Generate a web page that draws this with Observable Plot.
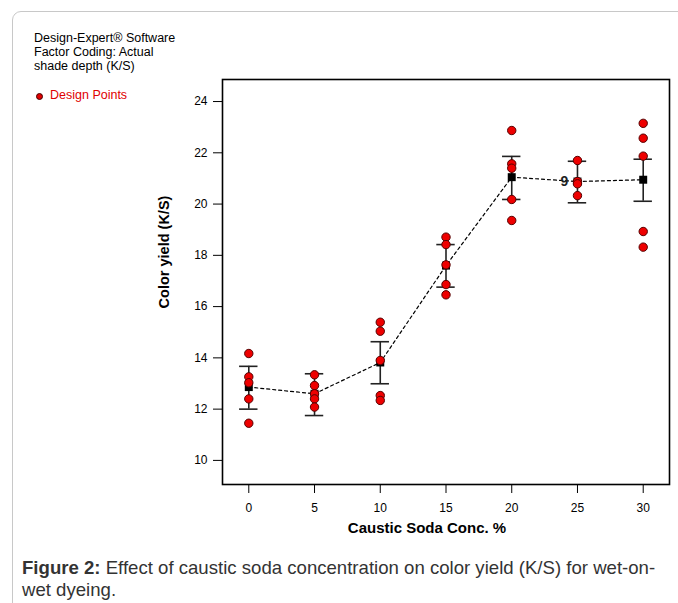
<!DOCTYPE html>
<html>
<head>
<meta charset="utf-8">
<script src="https://cdn.jsdelivr.net/npm/d3@7"></script>
<script src="https://cdn.jsdelivr.net/npm/@observablehq/plot@0.6"></script>
<style>
  html, body { margin: 0; padding: 0; background: #fff; }
  body { width: 678px; height: 603px; position: relative; overflow: hidden; font-family: "Liberation Sans", Arial, sans-serif; }
  #box { position: absolute; left: 12px; top: 11px; width: 700px; height: 640px; border: 1px solid #c8c8c8; border-radius: 9px; }
  #chart { position: absolute; left: 0; top: 0; }
  .info { position: absolute; left: 34px; top: 31px; font-size: 12.5px; line-height: 14px; color: #000; }
  .legend { position: absolute; left: 50px; top: 88px; font-size: 12.5px; color: #e00000; }
  .caption { position: absolute; left: 22px; top: 557px; width: 656px; font-size: 18.6px; line-height: 22px; color: #333; white-space: nowrap; }
</style>
</head>
<body>
<div id="box"></div>
<div id="chart"></div>
<div class="info">Design-Expert® Software<br>Factor Coding: Actual<br>shade depth (K/S)</div>
<svg style="position:absolute;left:0;top:0" width="60" height="110"><circle cx="39.5" cy="96.5" r="3" fill="#e00000" stroke="#400" stroke-width="1"/></svg>
<div class="legend">Design Points</div>
<div class="caption"><span style="font-weight:bold">Figure 2:</span><span> Effect of caustic soda concentration on color yield (K/S) for wet-on-</span><br><span>wet dyeing.</span></div>
<script>
// Factor levels (caustic soda concentration, %)
const conc = [0, 5, 10, 15, 20, 25, 30];
// Predicted means (black squares)
const means = [12.86, 12.6, 13.82, 17.6, 21.05, 20.88, 20.95];
// Error bar limits
const lower = [12.0, 11.75, 12.99, 16.76, 20.18, 20.05, 20.11];
const upper = [13.67, 13.38, 14.63, 18.42, 21.86, 21.67, 21.75];
// Design points (red dots)
const pointConc = [0,0,0,0,0, 5,5,5,5,5, 10,10,10,10,10, 15,15,15,15,15, 20,20,20,20,20, 25,25,25,25, 30,30,30,30,30];
const pointYield = [14.17,13.26,13.03,12.4,11.45, 13.34,12.92,12.6,12.4,12.08, 15.39,15.04,13.9,12.53,12.34, 18.71,18.42,17.63,16.86,16.46, 22.87,21.57,21.4,20.18,19.36, 21.7,20.88,20.79,20.33, 23.15,22.57,21.87,18.93,18.32];
const xTicks = [0, 5, 10, 15, 20, 25, 30];
const yTicks = [10, 12, 14, 16, 18, 20, 22, 24];

const meanData = conc.map((c, i) => ({c, m: means[i], lo: lower[i], hi: upper[i]}));
const pts = pointConc.map((c, i) => ({c, y: pointYield[i]}));
const capHalf = 0.7;

const chart = Plot.plot({
  width: 678,
  height: 545,
  marginLeft: 222,
  marginRight: 9,
  marginTop: 79,
  marginBottom: 61,
  style: {fontFamily: "'Liberation Sans', Arial, sans-serif", fontSize: "12px", color: "#000", background: "transparent"},
  x: {domain: [-2, 32]},
  y: {domain: [9.06, 24.86]},
  marks: [
    Plot.axisX({ticks: xTicks, tickSize: 9, tickPadding: 10, label: null, fontSize: 12, tickFormat: d => d}),
    Plot.axisY({ticks: yTicks, tickSize: 9, tickPadding: 6, label: null, fontSize: 12, tickFormat: d => d}),
    Plot.line(meanData, {x: "c", y: "m", stroke: "#000", strokeWidth: 1.2, strokeDasharray: "3,3"}),
    Plot.ruleX(meanData, {x: "c", y1: "lo", y2: "hi", stroke: "#222", strokeWidth: 1.6}),
    Plot.ruleY(meanData, {y: "lo", x1: d => d.c - capHalf, x2: d => d.c + capHalf, stroke: "#222", strokeWidth: 1.6}),
    Plot.ruleY(meanData, {y: "hi", x1: d => d.c - capHalf, x2: d => d.c + capHalf, stroke: "#222", strokeWidth: 1.6}),
    Plot.dot(meanData, {x: "c", y: "m", symbol: "square", r: 4.5, fill: "#000"}),
    Plot.dot(pts, {x: "c", y: "y", r: 4.2, fill: "#ee0000", stroke: "#500", strokeWidth: 1}),
    Plot.text([meanData[5]], {x: "c", y: "m", text: () => "9", dx: -13, fontSize: 14, fontWeight: "bold", fill: "#222"}),
    Plot.frame({stroke: "#000", strokeWidth: 1.6}),
    Plot.text(["Color yield (K/S)"], {frameAnchor: "left", textAnchor: "middle", dx: -58, dy: -30, rotate: -90, fontSize: 14.5, fontWeight: "bold", fill: "#000"}),
    Plot.text(["Caustic Soda Conc. %"], {frameAnchor: "bottom", textAnchor: "middle", dx: -19, dy: 48, fontSize: 15, fontWeight: "bold", fill: "#000"})
  ]
});
document.getElementById("chart").appendChild(chart);
</script>
</body>
</html>
